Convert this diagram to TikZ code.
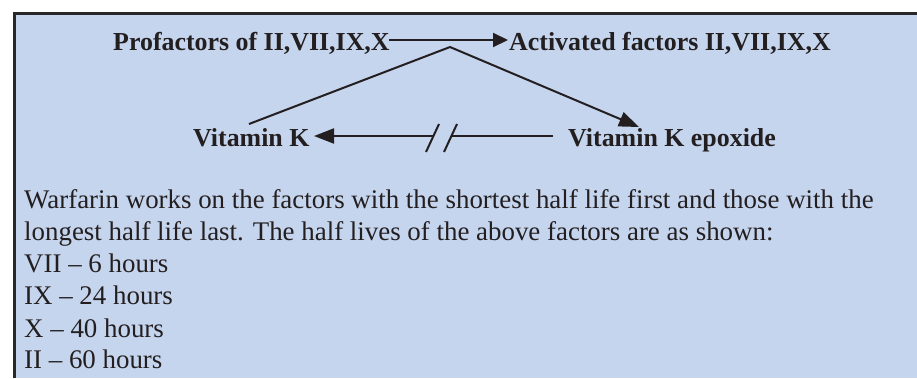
\documentclass[tikz,border=0pt]{standalone}
\usepackage{fontspec}
\setmainfont{Liberation Serif}
\usetikzlibrary{arrows.meta}
\definecolor{panel}{RGB}{198,213,238}
\definecolor{ink}{RGB}{35,31,32}
\definecolor{frame}{RGB}{40,40,42}
\tikzset{
  title/.style={inner sep=0pt, anchor=base west, text=ink, font=\fontsize{25.9}{30}\selectfont\bfseries},
  body/.style={inner sep=0pt, anchor=base west, text=ink, font=\fontsize{26.9}{32}\selectfont},
  conn/.style={draw=ink, line width=2pt},
  headA/.style={-{Triangle[length=15pt,width=14pt]}},
  headB/.style={-{Triangle[length=20pt,width=15pt]}},
}
\begin{document}
\begin{tikzpicture}[x=1pt,y=-1pt]
\useasboundingbox (0,0) rectangle (917,378);
\fill[panel] (14,13) rectangle (917,378);
\draw[frame, line width=3pt] (14,378) -- (14,13) -- (917,13);

\node[title] (prof) at (113,50) {Profactors of II,VII,IX,X};
\node[title] (act) at (509,50) {Activated factors II,VII,IX,X};
\node[title] (vk) at (193,146) {Vitamin K};
\node[title] (vke) at (568,146) {Vitamin K epoxide};

\coordinate (topL) at (389,40);
\coordinate (topR) at (508,40);
\draw[conn, headA] (topL) -- (topR);

\coordinate (apex) at (450,47);
\coordinate (leftEnd) at (249,124);
\coordinate (rightTip) at (639,127);
\draw[conn] (leftEnd) -- (apex);
\draw[conn, headB] (apex) -- (rightTip);

\coordinate (vkTip) at (314,136);
\coordinate (brkL) at (433,136);
\coordinate (brkR) at (451,136);
\coordinate (vkeStart) at (553,136);
\draw[conn, headB] (brkL) -- (vkTip);
\draw[conn] (vkeStart) -- (brkR);
\coordinate (s1a) at (426,152); \coordinate (s1b) at (439,124);
\coordinate (s2a) at (444,152); \coordinate (s2b) at (457,124);
\draw[conn] (s1a) -- (s1b);
\draw[conn] (s2a) -- (s2b);

\node[body] (l1) at (24,208) {Warfarin works on the factors with the shortest half life first and those with the};
\node[body] (l2) at (24,240) {longest half life last. The half lives of the above factors are as shown:};
\node[body] (l3) at (24,272) {VII – 6 hours};
\node[body] (l4) at (24,304) {IX – 24 hours};
\node[body] (l5) at (24,337) {X – 40 hours};
\node[body] (l6) at (24,368) {II – 60 hours};
\end{tikzpicture}
\end{document}
